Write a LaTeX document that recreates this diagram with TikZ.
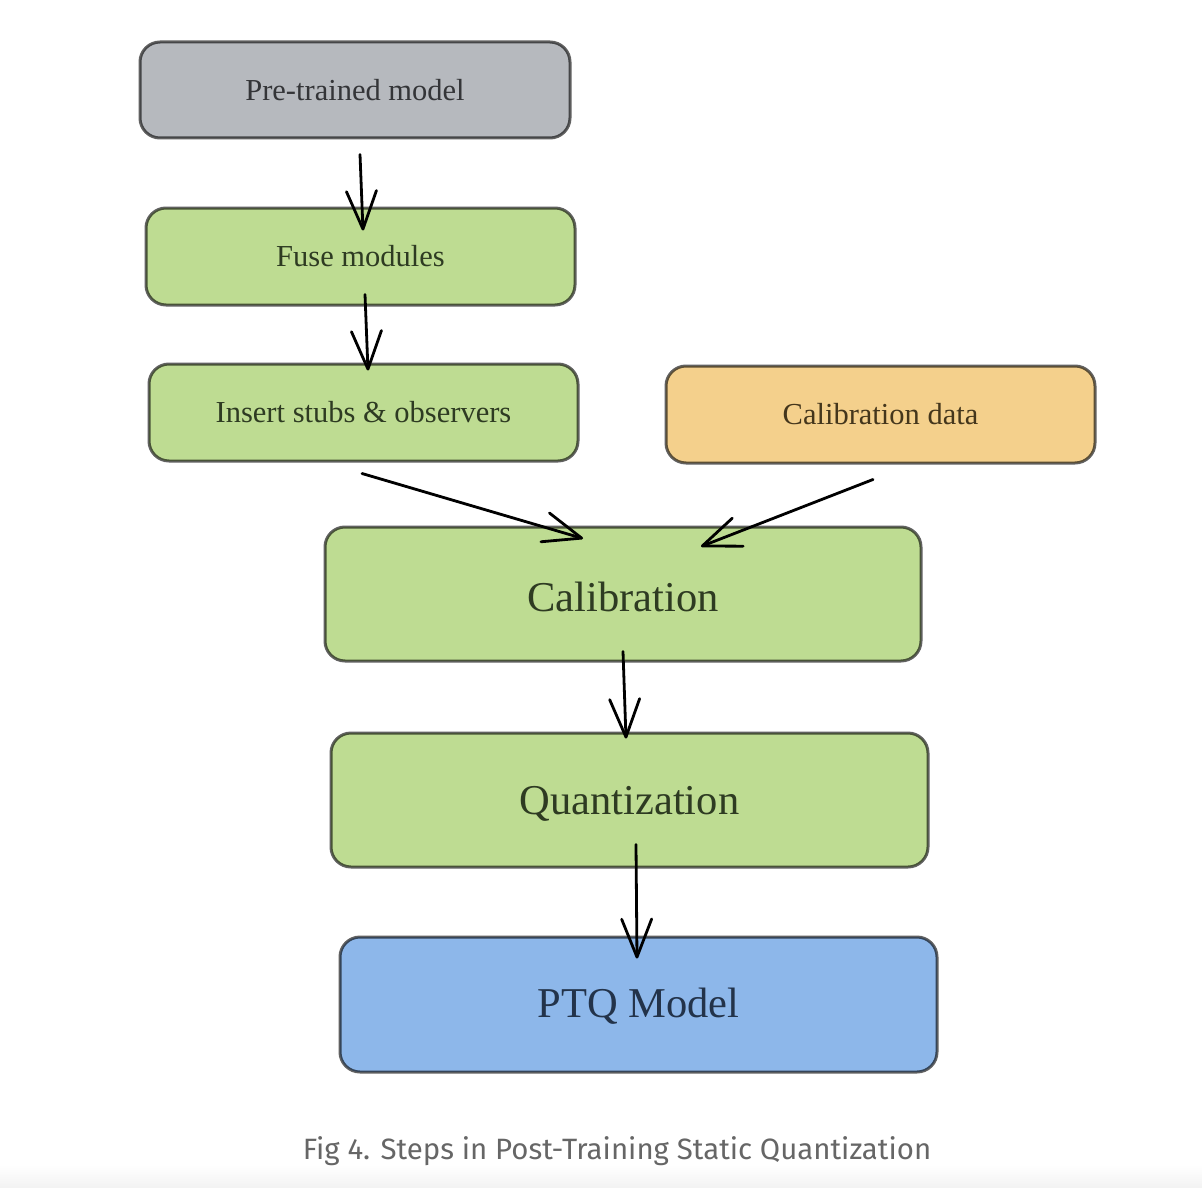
\documentclass[tikz,border=0pt]{standalone}
\usepackage{fontspec}
\setmainfont{Liberation Serif}
\newfontfamily\capfont{Fira Sans}
\usetikzlibrary{arrows.meta}
\definecolor{boxgray}{HTML}{B6B9BE}
\definecolor{boxgreen}{HTML}{BEDC92}
\definecolor{boxorange}{HTML}{F4D08C}
\definecolor{boxblue}{HTML}{8DB7EA}
\definecolor{txtgray}{HTML}{343538}
\definecolor{txtgreen}{HTML}{2E3B22}
\definecolor{txtorange}{HTML}{44361C}
\definecolor{txtblue}{HTML}{23334A}
\definecolor{capgray}{HTML}{666666}
% lower a label a little without changing the size TikZ sees
\newcommand{\lowerby}[2]{\raisebox{-#1}[\height][\depth]{#2}}
\begin{document}
\begin{tikzpicture}[x=1pt,y=-1pt,
  card/.style={draw=black, draw opacity=0.62, line width=3pt, rounded corners=20pt,
    rectangle, inner sep=0pt, align=center},
  small/.style={card, minimum width=429pt, minimum height=97pt, font=\fontsize{30.5}{36}\selectfont},
  big/.style={card, minimum width=597pt, minimum height=134pt, font=\fontsize{42.5}{50}\selectfont},
  arr/.style={draw=black, line width=2.8pt, line cap=round,
    -{Straight Barb[length=38pt, width=30pt, line cap=round, line join=round]}}
]
\useasboundingbox (0,0) rectangle (1202,1188);
\fill[white] (0,0) rectangle (1202,1188);
\shade[top color=white, bottom color=black!5] (0,1165) rectangle (1202,1188);

% processing steps
\node[small, fill=boxgray, text=txtgray, minimum width=430pt, minimum height=96pt] (pre) at (355,90) {Pre-trained model};
\node[small, fill=boxgreen, text=txtgreen] (fuse) at (360.5,256.5) {Fuse modules};
\node[small, fill=boxgreen, text=txtgreen] (ins) at (363.5,412.5) {Insert stubs \& observers};
\node[small, fill=boxorange, text=txtorange] (cdata) at (880.5,414.5) {Calibration data};
\node[big, fill=boxgreen, text=txtgreen, minimum width=596pt] (cal) at (623,594) {\lowerby{3pt}{Calibration}};
\node[big, fill=boxgreen, text=txtgreen] (quant) at (629.5,800) {\lowerby{4pt}{Quantization}};
\node[big, fill=boxblue, text=txtblue, minimum height=135pt] (ptq) at (638.5,1004.5) {\lowerby{2pt}{PTQ Model}};

% connectors
\draw[arr] ([shift={(5,15)}]pre.south) -- ([shift={(2.5,24)}]fuse.north);
\draw[arr] ([shift={(4.5,-12)}]fuse.south) -- ([shift={(4.5,8)}]ins.north);
\draw[arr] ([shift={(-1.5,11)}]ins.south) -- ([shift={(-40,13)}]cal.north);
\draw[arr] ([shift={(-7.5,15)}]cdata.south) -- ([shift={(78,21)}]cal.north);
\draw[arr] ([shift={(0,-11)}]cal.south) -- ([shift={(-3.5,7)}]quant.north);
\draw[arr] ([shift={(6.5,-24)}]quant.south) -- ([shift={(-1.5,23)}]ptq.north);

% caption
\node[text=capgray, font=\capfont\fontsize{29.4}{34}\selectfont, inner sep=0pt] (cap) at (617,1151) {Fig 4. Steps in Post-Training Static Quantization};
\end{tikzpicture}
\end{document}
